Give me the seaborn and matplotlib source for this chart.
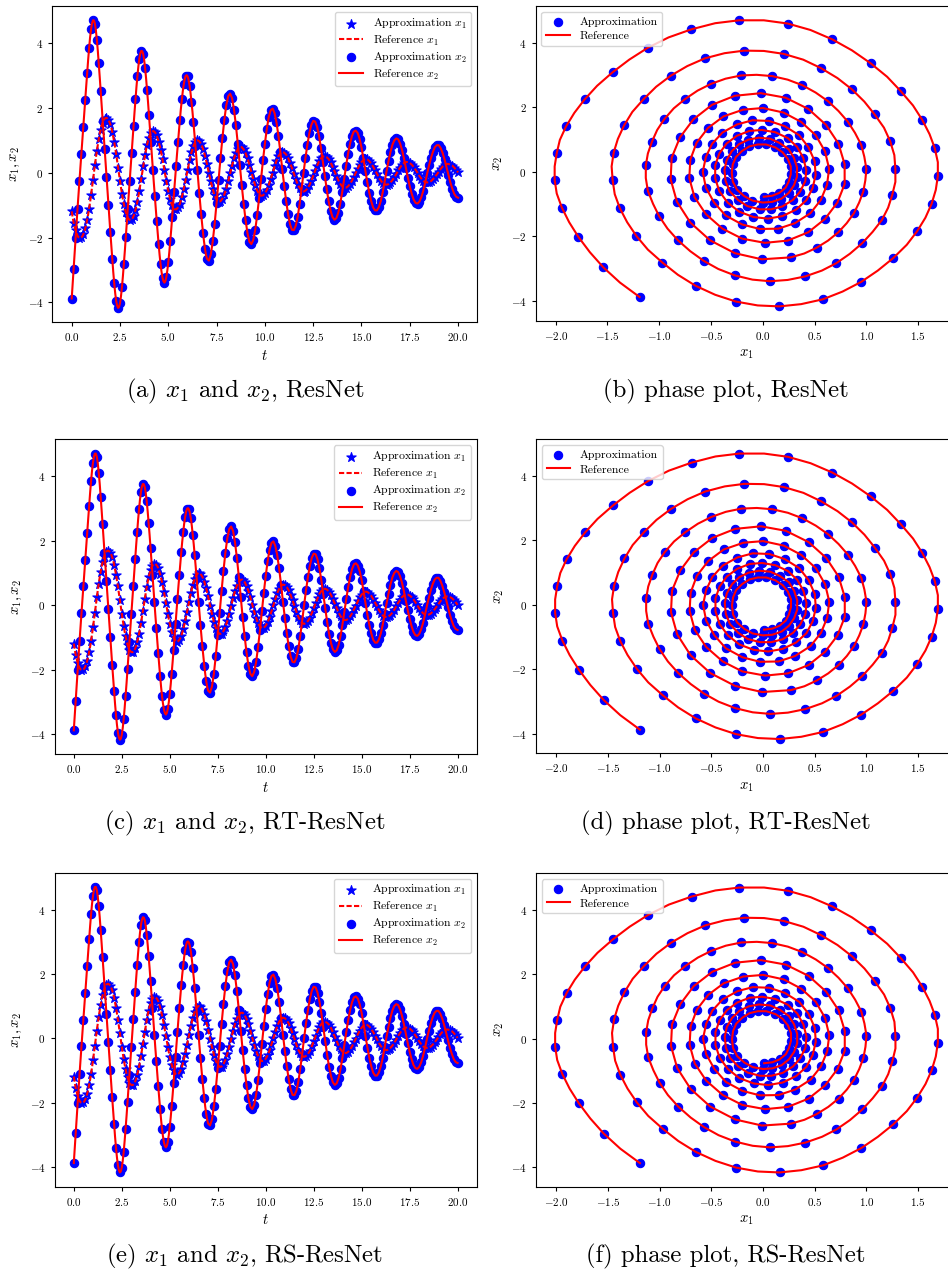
import matplotlib
matplotlib.use("Agg")
import matplotlib.pyplot as plt
import seaborn as sns
import numpy as np

# time grid of the trajectories (step 0.1)
t = np.linspace(0.0, 20.0, 201)

# x1, t = 0.0 ... 20.0
x1_values = [
    -1.19, -1.54, -1.78, -1.94, -2.01, -1.99, -1.90, -1.72, -1.45, -1.11,
    -0.69, -0.23, 0.24, 0.67, 1.04, 1.33, 1.54, 1.66, 1.69, 1.63,
    1.49, 1.26, 0.95, 0.58, 0.16, -0.26, -0.65, -0.97, -1.22, -1.38,
    -1.45, -1.44, -1.34, -1.15, -0.89, -0.56, -0.18, 0.20, 0.56, 0.86,
    1.08, 1.23, 1.28, 1.25, 1.15, 0.96, 0.71, 0.41, 0.07, -0.27,
    -0.57, -0.82, -1.00, -1.11, -1.13, -1.07, -0.95, -0.75, -0.50, -0.21,
    0.09, 0.38, 0.63, 0.82, 0.95, 1.00, 0.97, 0.88, 0.73, 0.52,
    0.27, -0.01, -0.27, -0.51, -0.70, -0.83, -0.89, -0.88, -0.80, -0.67,
    -0.49, -0.27, -0.02, 0.22, 0.44, 0.61, 0.73, 0.79, 0.79, 0.72,
    0.60, 0.44, 0.24, 0.02, -0.20, -0.39, -0.55, -0.66, -0.71, -0.70,
    -0.64, -0.53, -0.38, -0.19, 0.00, 0.20, 0.37, 0.51, 0.60, 0.64,
    0.62, 0.56, 0.46, 0.31, 0.15, -0.03, -0.20, -0.36, -0.47, -0.55,
    -0.58, -0.55, -0.49, -0.39, -0.25, -0.10, 0.06, 0.21, 0.35, 0.44,
    0.50, 0.51, 0.48, 0.42, 0.32, 0.19, 0.05, -0.09, -0.23, -0.34,
    -0.42, -0.46, -0.46, -0.42, -0.35, -0.25, -0.13, -0.01, 0.12, 0.24,
    0.33, 0.39, 0.42, 0.41, 0.36, 0.29, 0.19, 0.08, -0.03, -0.15,
    -0.24, -0.32, -0.36, -0.37, -0.35, -0.30, -0.23, -0.14, -0.04, 0.07,
    0.16, 0.25, 0.30, 0.33, 0.33, 0.30, 0.25, 0.18, 0.09, 0.00,
    -0.10, -0.18, -0.25, -0.29, -0.30, -0.29, -0.26, -0.20, -0.13, -0.05,
    0.03, 0.12, 0.19, 0.24, 0.27, 0.27, 0.25, 0.22, 0.16, 0.09,
    0.01,
]

# x2, t = 0.0 ... 20.0
x2_values = [
    -3.88, -2.96, -2.02, -1.11, -0.25, 0.58, 1.41, 2.25, 3.09, 3.85,
    4.42, 4.70, 4.60, 4.11, 3.37, 2.51, 1.61, 0.74, -0.13, -0.99,
    -1.84, -2.67, -3.41, -3.95, -4.17, -4.02, -3.53, -2.81, -1.99, -1.13,
    -0.26, 0.60, 1.44, 2.26, 2.98, 3.52, 3.76, 3.66, 3.22, 2.56,
    1.78, 0.95, 0.09, -0.71, -1.49, -2.21, -2.83, -3.24, -3.39, -3.21,
    -2.76, -2.12, -1.38, -0.59, 0.20, 0.94, 1.64, 2.26, 2.73, 2.99,
    2.97, 2.69, 2.19, 1.56, 0.84, 0.09, -0.61, -1.28, -1.87, -2.35,
    -2.65, -2.71, -2.52, -2.12, -1.57, -0.92, -0.23, 0.44, 1.07, 1.63,
    2.08, 2.36, 2.44, 2.30, 1.95, 1.46, 0.88, 0.24, -0.38, -0.95,
    -1.46, -1.87, -2.13, -2.20, -2.07, -1.76, -1.31, -0.78, -0.19, 0.38,
    0.90, 1.36, 1.72, 1.93, 1.98, 1.84, 1.55, 1.14, 0.64, 0.10,
    -0.40, -0.87, -1.28, -1.59, -1.76, -1.77, -1.63, -1.35, -0.95, -0.49,
    0.00, 0.46, 0.87, 1.22, 1.47, 1.60, 1.58, 1.42, 1.14, 0.77,
    0.34, -0.10, -0.51, -0.88, -1.17, -1.37, -1.45, -1.40, -1.23, -0.95,
    -0.60, -0.20, 0.20, 0.57, 0.88, 1.12, 1.27, 1.30, 1.23, 1.05,
    0.78, 0.44, 0.06, -0.29, -0.61, -0.87, -1.07, -1.16, -1.16, -1.06,
    -0.87, -0.60, -0.28, 0.06, 0.36, 0.64, 0.86, 1.00, 1.06, 1.03,
    0.90, 0.70, 0.44, 0.14, -0.15, -0.42, -0.65, -0.83, -0.93, -0.95,
    -0.89, -0.75, -0.55, -0.30, -0.02, 0.23, 0.46, 0.65, 0.79, 0.85,
    0.85, 0.76, 0.61, 0.41, 0.17, -0.07, -0.30, -0.49, -0.65, -0.74,
    -0.77,
]

# extra samples of the smooth reference curve in the large outer loops,
# t = 0.05, 0.15, ..., 6.95
t_mid = np.linspace(0.05, 6.95, 70)
x1_mid_values = [
    -1.38, -1.67, -1.87, -1.99, -2.01, -1.96, -1.82, -1.60, -1.29, -0.91,
    -0.46, 0.01, 0.46, 0.86, 1.20, 1.45, 1.61, 1.69, 1.67, 1.57,
    1.39, 1.11, 0.77, 0.37, -0.05, -0.46, -0.82, -1.11, -1.31, -1.43,
    -1.46, -1.40, -1.26, -1.03, -0.73, -0.37, 0.01, 0.39, 0.72, 0.98,
    1.17, 1.27, 1.28, 1.21, 1.06, 0.84, 0.57, 0.24, -0.10, -0.43,
    -0.70, -0.92, -1.06, -1.13, -1.11, -1.02, -0.86, -0.63, -0.36, -0.06,
    0.24, 0.51, 0.73, 0.89, 0.98, 0.99, 0.93, 0.81, 0.63, 0.40,
]
x2_mid_values = [
    -3.43, -2.49, -1.56, -0.67, 0.17, 0.99, 1.83, 2.67, 3.48, 4.17,
    4.61, 4.70, 4.40, 3.77, 2.95, 2.06, 1.17, 0.30, -0.56, -1.42,
    -2.26, -3.06, -3.71, -4.10, -4.14, -3.81, -3.19, -2.41, -1.56, -0.69,
    0.17, 1.02, 1.86, 2.64, 3.28, 3.68, 3.75, 3.48, 2.91, 2.18,
    1.37, 0.52, -0.31, -1.11, -1.86, -2.54, -3.06, -3.35, -3.34, -3.01,
    -2.46, -1.76, -0.99, -0.19, 0.57, 1.30, 1.97, 2.52, 2.89, 3.01,
    2.86, 2.46, 1.89, 1.21, 0.47, -0.26, -0.95, -1.59, -2.13, -2.53,
]

methods = ["ResNet", "RT-ResNet", "RS-ResNet"]
letters_ts = ["a", "c", "e"]
letters_ph = ["b", "d", "f"]

# reference curve = coarse samples + the extra ones, in time order
t_ref = np.concatenate([t, t_mid])
order = np.argsort(t_ref, kind="stable")
t_ref = t_ref[order]
x1_ref = np.concatenate([x1_values, x1_mid_values])[order]
x2_ref = np.concatenate([x2_values, x2_mid_values])[order]

plt.rcParams["font.family"] = "serif"
plt.rcParams["font.serif"] = ["cmr10"]
plt.rcParams["mathtext.fontset"] = "cm"
plt.rcParams["axes.formatter.use_mathtext"] = True

W, H = 948, 1274
fig = plt.figure(figsize=(W / 100, H / 100), dpi=100)

def px_axes(x0, x1, y0, y1):
    # pixel box (top-left origin) -> figure fraction
    return fig.add_axes([x0 / W, 1 - y1 / H, (x1 - x0) / W, (y1 - y0) / H])

left_boxes = [(52.4, 477.4, 6, 322.3), (54.6, 476.8, 439.3, 754), (54.6, 476.8, 872.7, 1186.7)]
right_boxes = [(535.5, 957, 6, 320.7), (536, 957, 439.3, 753.3), (536, 957, 873.3, 1186.7)]
caption_y = [391.7, 823, 1256.7]

dash = (0, (2.5, 1.1))
dot_kw = dict(color="blue", edgecolor="blue", linewidth=0.8)

for i, method in enumerate(methods):
    # time series panel
    ax = px_axes(*left_boxes[i])
    sns.scatterplot(x=t, y=x1_values, ax=ax, marker="*", s=50,
                    label=r"Approximation $x_1$", **dot_kw)
    sns.lineplot(x=t_ref, y=x1_ref, ax=ax, color="red", linestyle=dash, linewidth=1.5,
                 estimator=None, sort=False, label=r"Reference $x_1$")
    sns.scatterplot(x=t, y=x2_values, ax=ax, marker="o", s=36,
                    label=r"Approximation $x_2$", **dot_kw)
    sns.lineplot(x=t_ref, y=x2_ref, ax=ax, color="red", linewidth=1.5,
                 estimator=None, sort=False, label=r"Reference $x_2$")
    ax.set_xlabel(r"$t$", fontsize=10.5)
    ax.set_ylabel(r"$x_1, x_2$", fontsize=10.5)
    ax.tick_params(labelsize=8, length=3)
    ax.legend(loc="upper right", fontsize=8.5, labelspacing=0.25)
    fig.text(245 / W, 1 - caption_y[i] / H,
             "(%s) $x_1$ and $x_2$, %s" % (letters_ts[i], method),
             ha="center", va="center", fontsize=17.8)

    # phase plot panel
    ax = px_axes(*right_boxes[i])
    sns.scatterplot(x=x1_values, y=x2_values, ax=ax, marker="o", s=36,
                    label="Approximation", **dot_kw)
    sns.lineplot(x=x1_ref, y=x2_ref, ax=ax, color="red", linewidth=1.5,
                 estimator=None, sort=False, label="Reference")
    ax.set_xlabel(r"$x_1$", fontsize=10.5)
    ax.set_ylabel(r"$x_2$", fontsize=10.5)
    ax.tick_params(labelsize=8, length=3)
    ax.legend(loc="upper left", fontsize=8.5, labelspacing=0.35)
    fig.text(726 / W, 1 - caption_y[i] / H,
             "(%s) phase plot, %s" % (letters_ph[i], method),
             ha="center", va="center", fontsize=17.8)

fig.savefig("out.png", dpi=100, facecolor="white")
